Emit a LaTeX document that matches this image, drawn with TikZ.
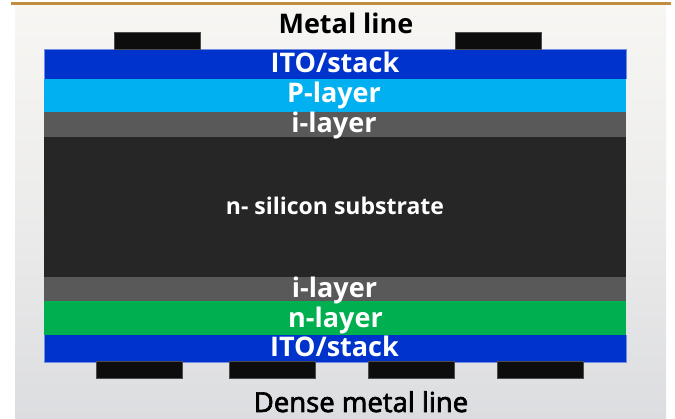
\documentclass[tikz,border=0pt]{standalone}
\usepackage{fontspec}
\setmainfont{Open Sans}
\newfontfamily\densefont[FakeBold=2.5]{Open Sans}
\definecolor{gold}{HTML}{BF8F3F}
\definecolor{itoblue}{HTML}{0033CC}
\definecolor{pblue}{HTML}{00B0F0}
\definecolor{igray}{HTML}{595959}
\definecolor{subdark}{HTML}{262626}
\definecolor{ngreen}{HTML}{00B050}
\definecolor{padblack}{HTML}{0D0D0D}
\definecolor{bgtop}{HTML}{F7F6F3}
\definecolor{bgbot}{HTML}{DCDDE0}
\tikzset{
  layer/.style={draw=none, inner sep=0pt, minimum width=582pt, anchor=north west},
  itoedge/.style={draw=itoblue!55!white, line width=0.6pt},
  pad/.style={fill=padblack, draw=black!70, line width=0.4pt, inner sep=0pt, minimum width=86pt, minimum height=17pt, anchor=north west},
  laytext/.style={text=white, font=\bfseries\fontsize{27}{30}\selectfont, anchor=base, inner sep=0pt},
  captext/.style={text=black, anchor=base, inner sep=0pt},
}
\begin{document}
\begin{tikzpicture}[x=1pt,y=-1pt]
\useasboundingbox (0,0) rectangle (675,419);
\fill[white] (0,0) rectangle (675,419);
\shade[top color=bgtop, bottom color=bgbot, middle color=bgtop!60!bgbot] (15,5) rectangle (666,419);
\fill[gold] (11,2) rectangle (671,5);
% layers
\node[layer, fill=itoblue, minimum height=30pt] (itotop) at (44,49) {};
\node[layer, fill=pblue, minimum height=33pt] (player) at (44,79) {};
\node[layer, fill=igray, minimum height=25pt] (itop) at (44,112) {};
\node[layer, fill=subdark, minimum height=140pt] (sub) at (44,137) {};
\node[layer, fill=igray, minimum height=24pt] (ibot) at (44,277) {};
\node[layer, fill=ngreen, minimum height=34pt] (nlayer) at (44,301) {};
\node[layer, fill=itoblue, minimum height=27pt] (itobot) at (44,335) {};
\draw[itoedge] (itotop.south west) |- (itotop.north east) -- (itotop.south east);
\draw[itoedge] (itobot.north west) |- (itobot.south east) -- (itobot.north east);
% pads
\node[pad] (padt1) at (114,32) {};
\node[pad] (padt2) at (455,32) {};
\node[pad] (padb1) at (96,361) {};
\node[pad] (padb2) at (229,361) {};
\node[pad] (padb3) at (368,361) {};
\node[pad] (padb4) at (497,361) {};
% texts
\node[laytext] (t1) at (335,73) {ITO/stack};
\node[laytext] (t2) at (334,102.5) {P-layer};
\node[laytext] (t3) at (334,132.5) {i-layer};
\node[laytext, font=\bfseries\fontsize{23}{26}\selectfont] (t4) at (335,215) {n- silicon substrate};
\node[laytext] (t5) at (334.5,298) {i-layer};
\node[laytext] (t6) at (335.5,328) {n-layer};
\node[laytext] (t7) at (334.5,357) {ITO/stack};
\node[captext, font=\bfseries\fontsize{27}{30}\selectfont] (mline) at (346,34) {Metal line};
\node[captext, font=\densefont\fontsize{27.5}{30}\selectfont] (dline) at (361,412) {Dense metal line};
\end{tikzpicture}
\end{document}
